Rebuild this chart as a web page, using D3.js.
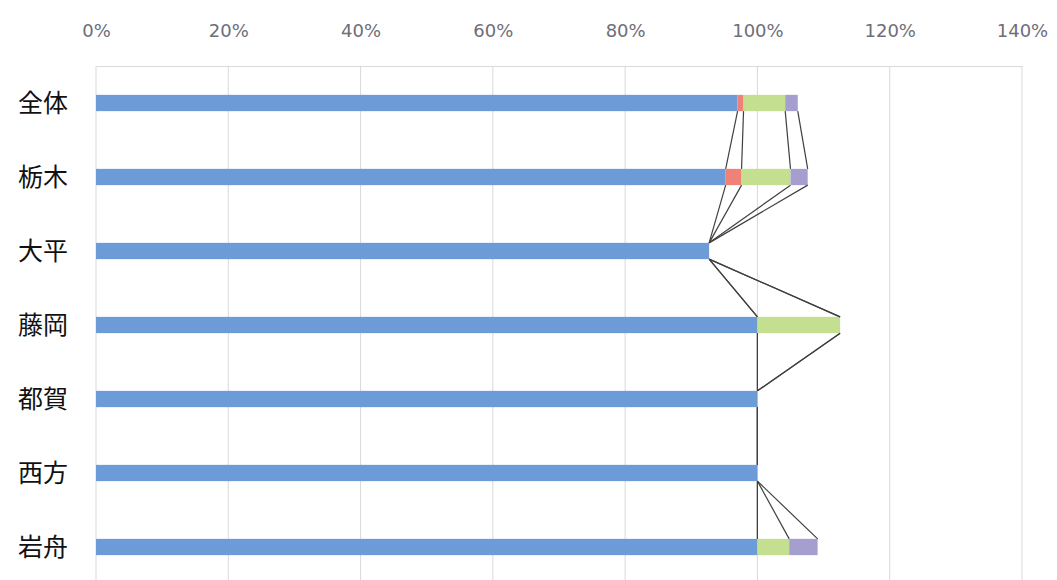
<!DOCTYPE html>
<html><head><meta charset="utf-8">
<script src="https://cdn.jsdelivr.net/npm/d3@7"></script>
<style>body{margin:0;background:#fff;}svg{display:block;}</style>
</head><body>
<svg id="c" width="1057" height="580"></svg>
<script>
const categories = ["全体","栃木","大平","藤岡","都賀","西方","岩舟"];
const seriesNames = ["s1","s2","s3","s4"];
const s1 = [97.0, 95.2, 92.7, 100, 100, 100, 100];
const s2 = [0.9, 2.4, 0, 0, 0, 0, 0];
const s3 = [6.3, 7.4, 0, 12.5, 0, 0, 4.8];
const s4 = [1.9, 2.6, 0, 0, 0, 0, 4.3];
const colors = ["#6d9bd8","#ef8277","#c3df8f","#a59fd0"];
const ticks = [0,20,40,60,80,100,120,140];

(function(){
const svg = d3.select("#c");
const mL = 96, mR = 1022, mT = 66, mB = 584;
const x = d3.scaleLinear().domain([0,140]).range([mL,mR]);
const y = d3.scaleBand().domain(categories).range([mT,mB]).paddingInner(0.78).paddingOuter(0.39);

// gridlines
svg.append("g").selectAll("line").data(ticks).join("line")
  .attr("x1",d=>x(d)).attr("x2",d=>x(d)).attr("y1",mT).attr("y2",mB)
  .attr("stroke","#d9d9d9").attr("stroke-width",1);

// top axis
const ax = svg.append("g").attr("transform",`translate(0,${mT})`)
  .call(d3.axisTop(x).tickValues(ticks).tickFormat(d=>d+"%").tickSize(0).tickPadding(29));
ax.select(".domain").attr("stroke","#d9d9d9");
ax.selectAll("text").attr("fill","#6e6e78").style("font-family","'DejaVu Sans', sans-serif").style("font-size","18px");

// stacked data
const rows = categories.map((c,i)=>({cat:c, s1:s1[i], s2:s2[i], s3:s3[i], s4:s4[i]}));
const stack = d3.stack().keys(seriesNames)(rows);

// bars
stack.forEach((layer,k)=>{
  svg.append("g").selectAll("rect").data(layer).join("rect")
    .attr("x",d=>x(d[0])).attr("width",d=>Math.max(0,x(d[1])-x(d[0])))
    .attr("y",d=>y(d.data.cat)).attr("height",y.bandwidth())
    .attr("fill",colors[k]);
});

// series lines
const sl = svg.append("g");
stack.forEach((layer)=>{
  for(let i=0;i<layer.length-1;i++){
    sl.append("line")
      .attr("x1",x(layer[i][1])).attr("y1",y(categories[i])+y.bandwidth())
      .attr("x2",x(layer[i+1][1])).attr("y2",y(categories[i+1]))
      .attr("stroke","#404040").attr("stroke-width",1.2);
  }
});

// category labels
svg.append("g").selectAll("text").data(categories).join("text")
  .attr("x",68).attr("y",d=>y(d)+y.bandwidth()/2 - 2)
  .attr("text-anchor","end").attr("dominant-baseline","central")
  .attr("fill","#111").style("font-family","'Noto Sans CJK JP', sans-serif").style("font-size","25px")
  .text(d=>d);
})();
</script>
</body></html>
